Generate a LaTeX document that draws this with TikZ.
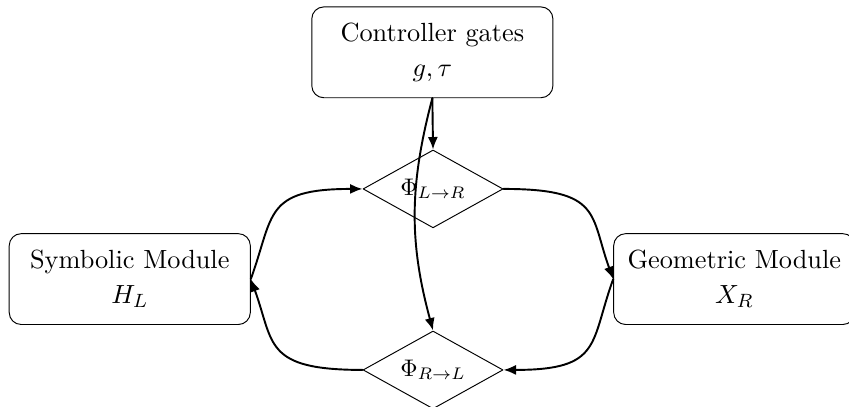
\documentclass[tikz,border=0pt,11pt]{standalone}
\usepackage{amsmath}
\usepackage{amssymb}
\usepackage{tikz}
\usetikzlibrary{shapes,arrows.meta}
\usetikzlibrary{calc}
\tikzset{>={Latex[length=5.2pt,width=4.2pt]}}

\begin{document}
\begin{tikzpicture}[line cap=round,line join=round,x=1cm,y=1cm,
		module/.style={draw,rounded corners=5pt,align=center,minimum width=3.53cm,minimum height=1.33cm},
		gate/.style={draw,diamond,aspect=1.8,inner sep=0pt,font=\small,minimum width=2.05cm,minimum height=1.14cm},
		flow/.style={->,thick}]
			\useasboundingbox (0,0) rectangle (12.43,5.946);
			\node[module] (ctrl) at (6.33,5.18) {Controller gates\\[1pt]$g,\tau$};
			\node[module] (sym) at (1.90,1.86) {Symbolic Module\\[1pt]$H_L$};
			\node[module] (geo) at (10.75,1.86) {Geometric Module\\[1pt]$X_R$};
			\node[gate] (lr) at (6.34,3.18) {$\Phi_{L\to R}$};
			\node[gate] (rl) at (6.34,0.53) {$\Phi_{R\to L}$};
			\draw[flow] (sym.east) .. controls +(70:1cm) and +(180:1.45cm) .. (lr.west);
			\draw[flow] (lr.east) .. controls +(0:1.45cm) and +(110:1cm) .. (geo.west);
			\draw[flow] (geo.west) .. controls +(-110:1cm) and +(0:1.45cm) .. (rl.east);
			\draw[flow] (rl.west) .. controls +(180:1.45cm) and +(-70:1cm) .. (sym.east);
			\draw[flow] (ctrl.south) -- (lr.north);
			\draw[flow] (ctrl.south) to[bend right=15] (rl.north);
		\end{tikzpicture}
\end{document}
